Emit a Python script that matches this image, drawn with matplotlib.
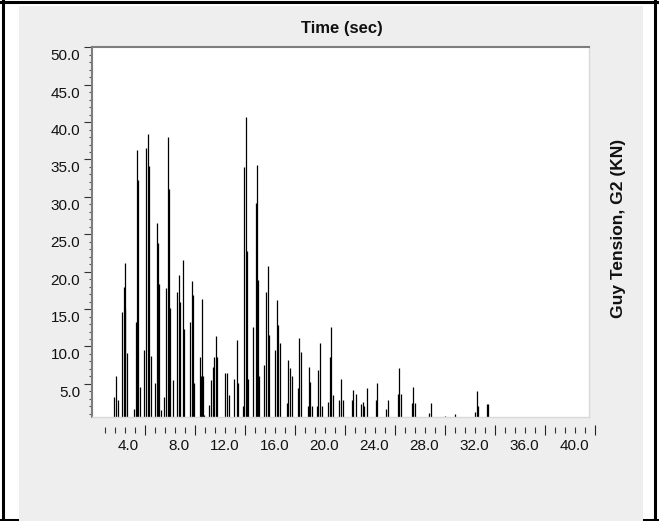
import numpy as np
import matplotlib
matplotlib.use("Agg")
import matplotlib.pyplot as plt
from matplotlib.patches import Rectangle
from matplotlib.lines import Line2D
from matplotlib.transforms import offset_copy

# Guy tension spikes: time (s) and peak tension (kN)
spike_time = [
    1.52, 1.68, 1.81,
    2.13, 2.32, 2.36, 2.43, 2.59,
    3.15, 3.25, 3.39, 3.47, 3.60,
    3.94, 4.08, 4.22, 4.32, 4.48,
    4.80, 4.94, 5.04, 5.14, 5.28,
    5.54, 5.68, 5.84, 5.94, 6.00, 6.21,
    6.59, 6.74, 6.82, 7.02, 7.12,
    7.60, 7.78, 7.86, 7.94,
    8.40, 8.44, 8.56, 8.64, 8.74,
    9.14, 9.28, 9.42, 9.52, 9.66, 9.74,
    10.40, 10.54, 10.70,
    11.14, 11.34, 11.44,
    11.82, 11.92, 12.08, 12.18, 12.26,
    12.66, 12.86, 12.96, 13.06, 13.14,
    13.54, 13.70, 13.86, 13.94,
    14.40, 14.58, 14.66, 14.80,
    15.34, 15.46, 15.60, 15.74,
    16.22, 16.34, 16.46,
    17.00, 17.12, 17.20, 17.34,
    17.74, 17.86, 18.00, 18.14,
    18.62, 18.80, 18.88, 19.06,
    19.52, 19.66, 19.82,
    20.54, 20.66, 20.86,
    21.28, 21.42, 21.52, 21.74,
    22.46, 22.58,
    23.28, 23.46,
    24.22, 24.34, 24.48,
    25.34, 25.46, 25.60,
    26.74, 26.88,
    28.00, 28.80,
    30.40, 30.54, 30.66,
    31.34, 31.46,
]
spike_tension = [
    3.3, 6.0, 2.8,
    14.6, 18.0, 15.0, 21.1, 9.1,
    1.7, 13.3, 36.3, 32.3, 4.6,
    9.5, 36.5, 38.4, 34.1, 8.7,
    5.1, 26.5, 23.8, 18.4, 1.5,
    3.3, 17.8, 38.0, 31.1, 15.1, 5.5,
    17.3, 19.6, 16.0, 21.6, 12.4,
    13.3, 18.7, 16.9, 5.1,
    8.6, 6.0, 16.3, 6.0, 0.8,
    2.2, 5.5, 7.3, 8.6, 11.4, 8.6,
    6.4, 6.4, 3.5,
    5.7, 10.9, 5.1,
    2.0, 34.0, 40.7, 22.7, 5.7,
    12.6, 29.2, 34.3, 18.9, 6.0,
    7.5, 17.3, 20.7, 11.5,
    9.5, 16.2, 12.9, 10.4,
    2.4, 8.2, 7.1, 6.0,
    4.4, 11.1, 9.3,
    2.0, 7.2, 5.3, 2.0,
    2.0, 6.8, 10.4, 2.0,
    2.6, 8.6, 12.6, 3.5,
    2.9, 5.7, 2.9,
    2.8, 4.2, 3.7,
    2.3, 2.6, 2.0, 4.4,
    2.8, 5.1,
    1.7, 2.8,
    3.7, 7.1, 3.7,
    2.4, 4.6, 2.4,
    1.1, 2.5,
    0.7, 1.0,
    1.3, 4.1, 2.0,
    2.3, 2.3,
]

y_major = [5.0, 10.0, 15.0, 20.0, 25.0, 30.0, 35.0, 40.0, 45.0, 50.0]
x_major = [4.0, 8.0, 12.0, 16.0, 20.0, 24.0, 28.0, 32.0, 36.0, 40.0]

title = "Time (sec)"
value_label = "Guy Tension, G2 (KN)"

W, H = 659, 521
fig = plt.figure(figsize=(W / 100, H / 100), dpi=100)
fig.patch.set_facecolor("white")


def fx(px):
    return px / W


def fy(py):
    return 1 - py / H


# outer frame and grey panel
for xs, ys in [((0, 1), (fy(1.5), fy(1.5))),
               ((fx(3), fx(3)), (0, 1)),
               ((fx(655), fx(655)), (0, 1)),
               ((0, 1), (fy(519.5), fy(519.5)))]:
    fig.lines.append(Line2D(xs, ys, transform=fig.transFigure, color="black",
                            linewidth=2.2, zorder=0))
fig.patches.append(Rectangle((fx(19), 0), fx(643) - fx(19), fy(6), transform=fig.transFigure,
                             facecolor="#eeeeee", edgecolor="none", zorder=1))

tick_font = ["Liberation Sans Narrow", "Liberation Sans", "DejaVu Sans"]
label_font = ["Liberation Sans", "DejaVu Sans"]

# main plotting area
left, right, top, bottom = 92, 589, 47.3, 417
ax = fig.add_axes([fx(left), fy(bottom), (right - left) / W, (bottom - top) / H], zorder=3)
ax.set_facecolor("white")
ax.set_xlim(-0.24, 39.52)
ax.set_ylim(0.57, 50.0)
ax.vlines(spike_time, 0, spike_tension, colors="#000000", linewidth=0.9)

for side in ("top", "left"):
    ax.spines[side].set_color("#7d7d7d")
    ax.spines[side].set_linewidth(1.5)
for side in ("right", "bottom"):
    ax.spines[side].set_color("#d9d9d9")
    ax.spines[side].set_linewidth(1.0)

ax.set_xticks([])
ax.set_yticks(y_major)
ax.set_yticks([v for v in range(1, 50) if v % 5 != 0], minor=True)
ax.tick_params(axis="y", which="major", direction="out", length=5.8, width=0.8,
               color="#333333", labelleft=False)
ax.tick_params(axis="y", which="minor", direction="out", length=2.2, width=0.8,
               color="#555555")

ylab_tr = offset_copy(ax.get_yaxis_transform(), fig=fig, x=-12 / 100, y=-9 / 100, units="inches")
for v in y_major:
    ax.text(0, v, f"{v:.1f}", transform=ylab_tr, ha="right", va="center",
            fontsize=11, family=tick_font, color="#111111", clip_on=False)

# time axis ticks
tax = fig.add_axes([fx(95), fy(430), 500 / W, 0.0001], zorder=3)
tax.set_facecolor("none")
for s in tax.spines.values():
    s.set_visible(False)
tax.set_xlim(0, 40)
tax.set_yticks([])
tax.set_xticks(x_major)
minor_x = [round(0.8 * k, 2) for k in range(1, 50) if k % 5 != 0]
tax.set_xticks(minor_x, minor=True)
tax.tick_params(axis="x", which="major", direction="inout", length=7.2, width=0.8,
                color="#222222", labelbottom=False)
tax.tick_params(axis="x", which="minor", direction="inout", length=4.3, width=0.8,
                color="#333333")

xlab_tr = offset_copy(tax.get_xaxis_transform(), fig=fig, x=-6 / 100, y=-16 / 100, units="inches")
for v in x_major:
    tax.text(v, 0, f"{v:.1f}", transform=xlab_tr, ha="right", va="center",
             fontsize=11, family=tick_font, color="#111111", clip_on=False)

fig.text(fx(342), fy(28), title, ha="center", va="center", fontsize=12,
         fontweight="bold", family=label_font, color="#111111", zorder=4)
fig.text(fx(619), fy(228), value_label, ha="center", va="center", rotation=90,
         fontsize=12.5, fontweight="bold", family=label_font, color="#111111", zorder=4)

fig.savefig("out.png", dpi=100)
